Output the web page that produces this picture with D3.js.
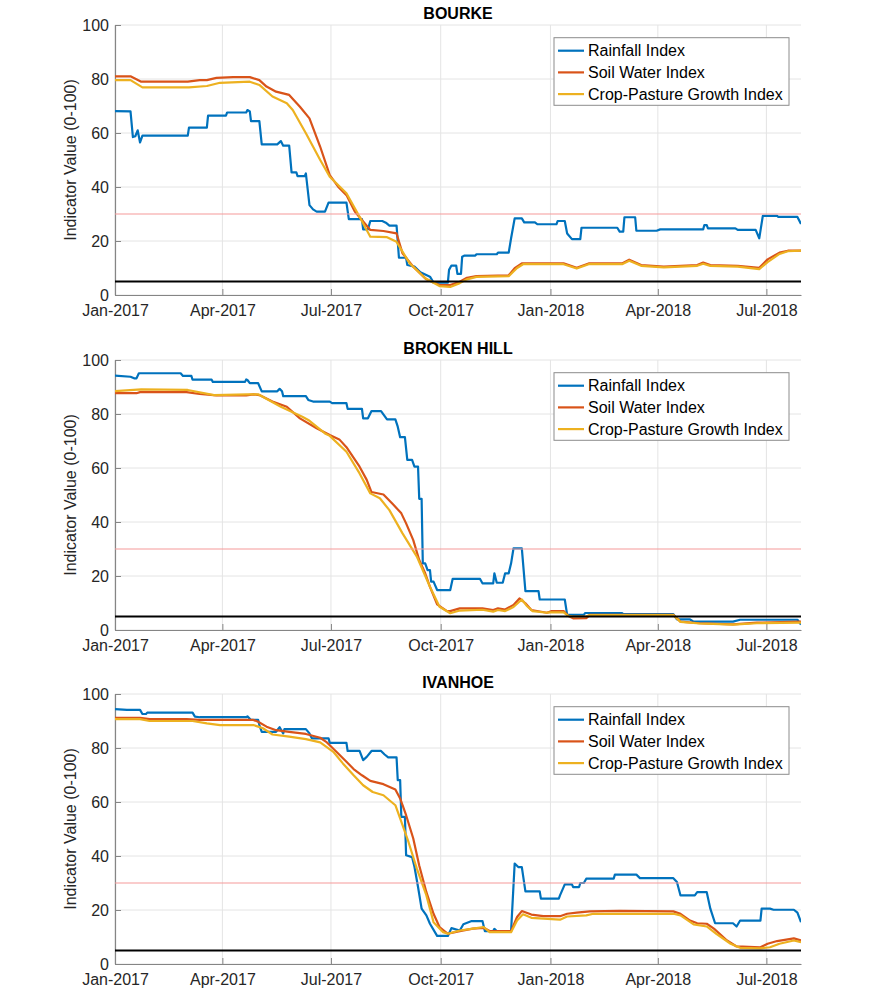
<!DOCTYPE html>
<html>
<head>
<meta charset="utf-8">
<script src="https://cdn.jsdelivr.net/npm/d3@7"></script>
<style>
    body { margin: 0; background: #fff; }
    svg text { font-family: "Liberation Sans", Arial, Helvetica, sans-serif; }
</style>
</head>
<body>
<div id="chart"></div>
<script>

// panel titles, legend names and colours (MATLAB default order)
var sites = ["BOURKE", "BROKEN HILL", "IVANHOE"];
var seriesNames = ["Rainfall Index", "Soil Water Index", "Crop-Pasture Growth Index"];
var seriesColors = ["#0072BD", "#D95319", "#EDB120"];

// axis ticks
var xTicks = ["2017-01-01", "2017-04-01", "2017-07-01", "2017-10-01", "2018-01-01", "2018-04-01", "2018-07-01"];
var yTicks = [0, 20, 40, 60, 80, 100];
var xStart = "2017-01-01", xEnd = "2018-07-30";

// reference levels
var upperLevel = 30;
var lowerLevel = 5;

// ---- BOURKE ----
var bourkeRain = [["2017-01-01",68.1],["2017-01-14",68],["2017-01-16",58.5],["2017-01-18",58.8],["2017-01-20",61],["2017-01-22",56.5],["2017-01-24",59],["2017-03-03",59],["2017-03-04",62],["2017-03-19",62],["2017-03-20",66.4],["2017-04-04",66.4],["2017-04-05",67.6],["2017-04-21",67.6],["2017-04-22",68.5],["2017-04-24",68],["2017-04-25",64.4],["2017-05-02",64.4],["2017-05-04",55.8],["2017-05-17",55.8],["2017-05-20",57],["2017-05-22",55.3],["2017-05-27",55.3],["2017-05-29",45.4],["2017-06-02",45.4],["2017-06-03",44],["2017-06-09",44],["2017-06-10",45],["2017-06-13",33.3],["2017-06-16",31.7],["2017-06-19",30.9],["2017-06-26",30.9],["2017-06-29",34.2],["2017-07-14",34.2],["2017-07-16",28.1],["2017-07-27",28.1],["2017-07-28",24.3],["2017-08-01",24.3],["2017-08-03",27.4],["2017-08-13",27.4],["2017-08-16",26.8],["2017-08-19",25.7],["2017-08-25",25.7],["2017-08-27",13.8],["2017-09-02",13.8],["2017-09-03",11.1],["2017-09-09",10.5],["2017-09-14",8.4],["2017-09-22",6.8],["2017-09-25",4.6],["2017-10-07",4.6],["2017-10-08",9.3],["2017-10-10",10.9],["2017-10-14",10.9],["2017-10-15",7.8],["2017-10-18",7.8],["2017-10-19",14.2],["2017-10-21",14.6],["2017-10-30",14.6],["2017-10-31",15.1],["2017-11-17",15.1],["2017-11-18",15.7],["2017-11-27",15.7],["2017-11-29",21],["2017-12-02",28.4],["2017-12-08",28.4],["2017-12-10",26.9],["2017-12-19",26.9],["2017-12-21",26.2],["2018-01-06",26.2],["2018-01-07",27.4],["2018-01-13",27.4],["2018-01-15",22.8],["2018-01-19",20.7],["2018-01-26",20.7],["2018-01-27",24.9],["2018-02-26",24.9],["2018-02-28",23.5],["2018-03-03",23.5],["2018-03-04",28.8],["2018-03-13",28.8],["2018-03-14",23.8],["2018-03-31",23.8],["2018-04-03",24.3],["2018-05-09",24.3],["2018-05-10",25.9],["2018-05-12",25.9],["2018-05-13",24.7],["2018-06-05",24.7],["2018-06-07",24.1],["2018-06-22",24.1],["2018-06-25",21],["2018-06-28",29.3],["2018-07-10",29.3],["2018-07-11",28.9],["2018-07-27",28.9],["2018-07-30",26.3]];
var bourkeSoil = [["2017-01-01",81],["2017-01-14",81],["2017-01-23",79],["2017-03-03",79],["2017-03-13",79.6],["2017-03-19",79.6],["2017-03-27",80.4],["2017-04-10",80.7],["2017-04-24",80.7],["2017-05-02",79.6],["2017-05-08",77.2],["2017-05-16",75.3],["2017-05-27",74.1],["2017-06-05",69.7],["2017-06-13",65.4],["2017-06-22",54.9],["2017-06-30",44.4],["2017-07-07",40.1],["2017-07-14",37],["2017-07-21",30.9],["2017-07-28",27.2],["2017-08-03",24.1],["2017-08-14",23.7],["2017-08-25",22.8],["2017-08-30",15.4],["2017-09-08",10.5],["2017-09-19",5.8],["2017-09-30",3.7],["2017-10-09",3.7],["2017-10-17",4.9],["2017-10-23",6.4],["2017-10-31",7],["2017-11-27",7.3],["2017-12-02",9.9],["2017-12-08",11.7],["2018-01-12",11.7],["2018-01-23",10.1],["2018-02-02",11.7],["2018-03-02",11.7],["2018-03-08",13.1],["2018-03-18",11.1],["2018-04-06",10.5],["2018-05-04",11.1],["2018-05-09",12],["2018-05-15",11.1],["2018-06-07",10.8],["2018-06-25",10.1],["2018-07-02",13.2],["2018-07-12",15.7],["2018-07-19",16.4],["2018-07-30",16.4]];
var bourkeCrop = [["2017-01-01",79.6],["2017-01-14",79.6],["2017-01-24",76.9],["2017-03-04",76.9],["2017-03-19",77.4],["2017-03-30",78.6],["2017-04-24",79],["2017-05-02",77.8],["2017-05-13",73.5],["2017-05-25",71],["2017-05-30",68.5],["2017-06-10",59.9],["2017-06-22",50],["2017-06-30",43.8],["2017-07-14",37.7],["2017-07-25",29],["2017-08-03",21.6],["2017-08-17",21.4],["2017-08-25",19.7],["2017-09-05",11.7],["2017-09-18",6.2],["2017-09-30",3.3],["2017-10-09",3],["2017-10-17",4.4],["2017-10-23",5.8],["2017-10-31",6.7],["2017-11-27",7],["2017-12-04",10],["2017-12-09",11.4],["2018-01-12",11.4],["2018-01-23",9.8],["2018-02-02",11.4],["2018-03-02",11.4],["2018-03-08",12.7],["2018-03-18",10.8],["2018-04-06",10.2],["2018-05-04",10.8],["2018-05-09",11.6],["2018-05-15",10.8],["2018-06-07",10.5],["2018-06-25",9.6],["2018-07-02",12.2],["2018-07-12",15.2],["2018-07-19",16.2],["2018-07-30",16.4]];

// ---- BROKEN HILL ----
var brokenHillRain = [["2017-01-01",94.2],["2017-01-14",93.8],["2017-01-17",93.2],["2017-01-19",93.2],["2017-01-21",95.1],["2017-02-25",95.1],["2017-02-27",94.1],["2017-03-06",94.1],["2017-03-07",92.7],["2017-03-23",92.7],["2017-03-24",91.9],["2017-04-20",91.9],["2017-04-21",92.8],["2017-04-22",92.6],["2017-04-24",91.4],["2017-05-01",91.4],["2017-05-04",88.4],["2017-05-17",88.4],["2017-05-19",89.3],["2017-05-21",88.4],["2017-05-22",86.6],["2017-06-10",86.6],["2017-06-12",85.2],["2017-06-16",84.6],["2017-06-30",84.6],["2017-07-02",84],["2017-07-14",84],["2017-07-15",81.9],["2017-07-27",81.9],["2017-07-28",78.4],["2017-08-01",78.4],["2017-08-04",81.1],["2017-08-12",81.1],["2017-08-17",78],["2017-08-24",78],["2017-08-26",75.3],["2017-08-28",71.4],["2017-09-01",71.4],["2017-09-03",63],["2017-09-07",63],["2017-09-09",60.5],["2017-09-12",60.5],["2017-09-13",48.6],["2017-09-15",48.6],["2017-09-16",24.7],["2017-09-18",24.7],["2017-09-20",22.2],["2017-09-22",22.2],["2017-09-23",17.9],["2017-09-25",17.9],["2017-09-28",14.8],["2017-10-09",14.8],["2017-10-11",18.9],["2017-11-03",18.9],["2017-11-05",17.3],["2017-11-14",17.3],["2017-11-15",21],["2017-11-17",17.5],["2017-11-22",17.5],["2017-11-24",21],["2017-11-27",21],["2017-11-29",24.7],["2017-12-01",30.2],["2017-12-08",30.2],["2017-12-11",14.4],["2017-12-22",14.4],["2017-12-23",11.3],["2018-01-13",11.3],["2018-01-15",5.6],["2018-01-29",5.6],["2018-01-30",6.3],["2018-03-02",6.3],["2018-03-03",5.9],["2018-04-14",5.9],["2018-04-17",3.9],["2018-04-28",3.9],["2018-05-01",3.1],["2018-06-03",3.1],["2018-06-09",3.8],["2018-07-27",3.8],["2018-07-30",2]];
var brokenHillSoil = [["2017-01-01",87.7],["2017-01-19",87.7],["2017-01-22",88.1],["2017-03-02",88.1],["2017-03-13",87.4],["2017-03-27",86.9],["2017-04-21",86.9],["2017-04-27",87.3],["2017-05-02",87],["2017-05-13",84.6],["2017-05-25",82.7],["2017-06-05",78.4],["2017-06-19",74.7],["2017-06-30",72.2],["2017-07-08",70.6],["2017-07-14",67.7],["2017-07-25",60.5],["2017-07-31",55.6],["2017-08-04",51.1],["2017-08-14",50.2],["2017-08-22",46.6],["2017-08-29",43.2],["2017-09-02",39.5],["2017-09-08",33.3],["2017-09-13",25.9],["2017-09-18",21],["2017-09-22",16],["2017-09-28",9.5],["2017-10-06",7.1],["2017-10-09",7],["2017-10-17",8],["2017-11-05",8],["2017-11-14",7.4],["2017-11-18",8],["2017-11-24",7.6],["2017-12-01",9.3],["2017-12-06",11.7],["2017-12-11",9.9],["2017-12-16",7.4],["2017-12-29",6.4],["2018-01-02",7],["2018-01-12",7],["2018-01-16",5.2],["2018-01-20",4.3],["2018-01-31",4.4],["2018-02-03",5.6],["2018-04-14",5.6],["2018-04-20",3.1],["2018-05-06",2.5],["2018-06-03",2.1],["2018-06-23",2.7],["2018-07-30",3.1]];
var brokenHillCrop = [["2017-01-01",88.5],["2017-01-23",89.1],["2017-03-03",88.9],["2017-03-25",87],["2017-04-22",87.3],["2017-05-01",87.3],["2017-05-20",82.7],["2017-06-07",79],["2017-06-12",77.8],["2017-06-26",72.8],["2017-06-30",71.9],["2017-07-14",66],["2017-07-25",58],["2017-08-03",50.6],["2017-08-11",48.8],["2017-08-19",44.4],["2017-08-30",35.8],["2017-09-11",27.2],["2017-09-22",16],["2017-09-30",8.6],["2017-10-09",6.2],["2017-10-17",7.2],["2017-11-05",7.5],["2017-11-14",6.8],["2017-11-18",7.4],["2017-11-24",7],["2017-12-01",8.5],["2017-12-08",11.3],["2017-12-12",9],["2017-12-17",7],["2017-12-29",6.4],["2018-01-02",6.5],["2018-01-12",6.5],["2018-01-16",5.2],["2018-01-20",5],["2018-01-31",5.1],["2018-02-03",5.5],["2018-04-14",5.5],["2018-04-20",3],["2018-05-06",2.4],["2018-06-03",2],["2018-06-23",2.5],["2018-07-30",2.7]];

// ---- IVANHOE ----
var ivanhoeRain = [["2017-01-01",94.4],["2017-01-11",94.1],["2017-01-22",94.1],["2017-01-24",92.6],["2017-01-27",92.6],["2017-01-28",93.1],["2017-03-07",93.1],["2017-03-09",91.6],["2017-03-13",91.4],["2017-04-21",91.4],["2017-04-22",91.7],["2017-04-25",90.4],["2017-05-01",90.4],["2017-05-02",88.5],["2017-05-04",86],["2017-05-16",86],["2017-05-19",87.7],["2017-05-22",85.4],["2017-05-23",87],["2017-06-10",87],["2017-06-13",85.4],["2017-06-15",83.6],["2017-06-29",83.6],["2017-06-30",81.9],["2017-07-14",81.9],["2017-07-15",78.9],["2017-07-25",78.9],["2017-07-28",75.5],["2017-07-31",76.7],["2017-08-04",78.9],["2017-08-12",78.9],["2017-08-15",77.6],["2017-08-18",76.5],["2017-08-25",76.5],["2017-08-26",68.1],["2017-08-28",68.1],["2017-08-29",54.5],["2017-09-01",54.5],["2017-09-02",40.3],["2017-09-07",39.6],["2017-09-09",36],["2017-09-12",28.5],["2017-09-15",20.5],["2017-09-19",18],["2017-09-22",14.9],["2017-09-28",10.4],["2017-10-07",10.4],["2017-10-10",13.3],["2017-10-17",12.4],["2017-10-20",14.7],["2017-10-27",15.9],["2017-11-05",15.9],["2017-11-07",12.2],["2017-11-14",12.2],["2017-11-15",13],["2017-11-17",12.2],["2017-11-29",12.2],["2017-12-02",37.2],["2017-12-05",35.9],["2017-12-08",35.9],["2017-12-11",26.9],["2017-12-23",26.9],["2017-12-24",24.2],["2018-01-08",24.2],["2018-01-09",25.4],["2018-01-13",29.5],["2018-01-19",29.5],["2018-01-20",28.5],["2018-01-25",28.5],["2018-01-26",30],["2018-01-29",30],["2018-01-31",31.6],["2018-02-23",31.6],["2018-02-24",33.1],["2018-03-14",33.1],["2018-03-17",31.8],["2018-04-14",31.8],["2018-04-17",30.4],["2018-04-20",25.4],["2018-05-02",25.4],["2018-05-04",26.6],["2018-05-12",26.6],["2018-05-15",20.5],["2018-05-19",15.1],["2018-06-03",15.1],["2018-06-06",13.9],["2018-06-09",16.1],["2018-06-26",16.1],["2018-06-27",20.5],["2018-07-04",20.5],["2018-07-07",20.1],["2018-07-24",20.1],["2018-07-27",19],["2018-07-30",15.5]];
var ivanhoeSoil = [["2017-01-01",91.2],["2017-01-22",91.2],["2017-01-30",90.7],["2017-03-02",90.7],["2017-03-13",90.4],["2017-04-27",90.4],["2017-05-01",89.7],["2017-05-08",87.9],["2017-05-16",86.6],["2017-05-27",86],["2017-06-10",85.2],["2017-06-22",83.8],["2017-06-27",82.3],["2017-07-06",78.4],["2017-07-14",74.9],["2017-07-20",72.2],["2017-07-27",69.9],["2017-08-03",67.8],["2017-08-14",66.6],["2017-08-24",64.6],["2017-08-28",61.3],["2017-09-02",55.1],["2017-09-08",46.5],["2017-09-13",36.5],["2017-09-19",26.6],["2017-09-25",18.6],["2017-09-30",13.7],["2017-10-07",11.2],["2017-10-17",12.2],["2017-10-28",13.1],["2017-11-06",13.4],["2017-11-11",12.2],["2017-11-29",12.2],["2017-12-04",17.4],["2017-12-08",19.6],["2017-12-16",18.3],["2017-12-26",17.7],["2018-01-09",17.7],["2018-01-15",18.6],["2018-01-23",19],["2018-02-03",19.5],["2018-02-28",19.7],["2018-04-14",19.5],["2018-04-20",18.6],["2018-04-28",16.1],["2018-05-04",15.1],["2018-05-12",14.9],["2018-05-18",13.1],["2018-05-29",8.7],["2018-06-06",6.5],["2018-06-26",6.2],["2018-07-02",7.5],["2018-07-10",8.5],["2018-07-24",9.5],["2018-07-30",8.7]];
var ivanhoeCrop = [["2017-01-01",90.7],["2017-01-22",90.7],["2017-01-30",90],["2017-03-07",90],["2017-03-19",89.1],["2017-03-30",88.5],["2017-04-27",88.5],["2017-05-05",87.3],["2017-05-13",85],["2017-05-27",84.2],["2017-06-10",83.3],["2017-06-22",82.1],["2017-07-03",78.6],["2017-07-11",74.3],["2017-07-20",69.9],["2017-07-28",66.2],["2017-08-05",63.7],["2017-08-14",62.5],["2017-08-24",58.8],["2017-08-28",53.9],["2017-09-04",45.2],["2017-09-11",35.3],["2017-09-19",25.4],["2017-09-25",15.5],["2017-10-03",11.8],["2017-10-07",11.2],["2017-10-17",12.4],["2017-10-28",13.1],["2017-11-06",13.7],["2017-11-11",11.8],["2017-11-29",11.8],["2017-12-04",16.1],["2017-12-09",18.4],["2017-12-16",17.1],["2018-01-09",16.4],["2018-01-15",17.6],["2018-01-31",18],["2018-02-06",18.6],["2018-04-14",18.6],["2018-04-20",18],["2018-05-01",14.7],["2018-05-12",13.9],["2018-05-20",11.2],["2018-06-01",7.5],["2018-06-09",6],["2018-06-26",5.8],["2018-07-04",6.2],["2018-07-12",7.5],["2018-07-24",8.7],["2018-07-30",8.1]];

var panelData = [
    [bourkeRain, bourkeSoil, bourkeCrop],
    [brokenHillRain, brokenHillSoil, brokenHillCrop],
    [ivanhoeRain, ivanhoeSoil, ivanhoeCrop]
];

function render() {

    var parseDate = d3.timeParse("%Y-%m-%d");
    var tickFormat = d3.timeFormat("%b-%Y");

    var margin = { left: 115 },
        width = 686,
        height = 270;
    var panelTops = [25, 360, 694];

    var svg = d3.select('#chart').append('svg')
        .attr('width', 885)
        .attr('height', 1000);

    var xScale = d3.scaleTime()
        .domain([parseDate(xStart), parseDate(xEnd)])
        .range([0, width]);
    var yScale = d3.scaleLinear()
        .domain([0, 100])
        .range([height, 0]);

    var xTickDates = xTicks.map(parseDate);

    var line = d3.line()
        .x(function (d) { return xScale(parseDate(d[0])); })
        .y(function (d) { return yScale(d[1]); });

    sites.forEach(function (site, i) {

        var g = svg.append('g')
            .attr('transform', 'translate(' + margin.left + ',' + panelTops[i] + ')');

        // grid
        g.append('g').selectAll('line.hgrid')
            .data(yTicks)
            .enter().append('line')
            .attr('x1', 0).attr('x2', width)
            .attr('y1', function (d) { return yScale(d); })
            .attr('y2', function (d) { return yScale(d); })
            .attr('stroke', '#e4e4e4').attr('stroke-width', 1);
        g.append('g').selectAll('line.vgrid')
            .data(xTickDates)
            .enter().append('line')
            .attr('x1', function (d) { return xScale(d); })
            .attr('x2', function (d) { return xScale(d); })
            .attr('y1', 0).attr('y2', height)
            .attr('stroke', '#e4e4e4').attr('stroke-width', 1);

        // axes (ticks point inward, no box)
        var xAxis = d3.axisBottom(xScale).tickValues(xTickDates).tickFormat(tickFormat)
            .tickSize(-6).tickSizeOuter(0).tickPadding(10);
        var yAxis = d3.axisLeft(yScale).tickValues(yTicks)
            .tickSize(-6).tickSizeOuter(0).tickPadding(6);

        var gx = g.append('g')
            .attr('transform', 'translate(0,' + height + ')')
            .call(xAxis);
        var gy = g.append('g').call(yAxis);

        [gx, gy].forEach(function (ax) {
            ax.select('.domain').attr('stroke', '#858585').attr('stroke-width', 1.2);
            ax.selectAll('.tick line').attr('stroke', '#858585');
            ax.selectAll('.tick text')
                .attr('fill', '#262626')
                .style('font-size', '16px');
        });

        // clip series to plot area
        var clipId = 'clip' + i;
        g.append('clipPath').attr('id', clipId)
            .append('rect').attr('width', width).attr('height', height);

        var seriesG = g.append('g').attr('clip-path', 'url(#' + clipId + ')');

        panelData[i].forEach(function (values, k) {
            seriesG.append('path')
                .datum(values)
                .attr('d', line)
                .attr('fill', 'none')
                .attr('stroke', seriesColors[k])
                .attr('stroke-width', 2.2)
                .attr('stroke-linejoin', 'round');
        });

        // reference lines
        g.append('line')
            .attr('x1', 0).attr('x2', width)
            .attr('y1', yScale(upperLevel)).attr('y2', yScale(upperLevel))
            .attr('stroke', '#f59a9a').attr('stroke-width', 1.2);
        g.append('line')
            .attr('x1', 0).attr('x2', width)
            .attr('y1', yScale(lowerLevel)).attr('y2', yScale(lowerLevel))
            .attr('stroke', '#000').attr('stroke-width', 2);

        // title
        g.append('text')
            .attr('x', width / 2)
            .attr('y', -6)
            .attr('text-anchor', 'middle')
            .style('font-size', '16px')
            .style('font-weight', 'bold')
            .attr('fill', '#000')
            .text(site);

        // y label
        g.append('text')
            .attr('transform', 'translate(-45,' + (height / 2) + ') rotate(-90)')
            .attr('text-anchor', 'middle')
            .attr('dy', '0.35em')
            .style('font-size', '16px')
            .attr('fill', '#262626')
            .text('Indicator Value (0-100)');

        // legend
        var legend = g.append('g').attr('transform', 'translate(439,12.7)');
        legend.append('rect')
            .attr('width', 235).attr('height', 67.6)
            .attr('fill', '#fff')
            .attr('stroke', '#8c8c8c').attr('stroke-width', 1);
        seriesNames.forEach(function (name, k) {
            var cy = 13 + k * 21.7;
            legend.append('line')
                .attr('x1', 4).attr('x2', 30)
                .attr('y1', cy).attr('y2', cy)
                .attr('stroke', seriesColors[k]).attr('stroke-width', 2.2);
            legend.append('text')
                .attr('x', 34).attr('y', cy)
                .attr('dy', '0.35em')
                .style('font-size', '16px')
                .attr('fill', '#000')
                .text(name);
        });
    });
}

render();
</script>
</body>
</html>
